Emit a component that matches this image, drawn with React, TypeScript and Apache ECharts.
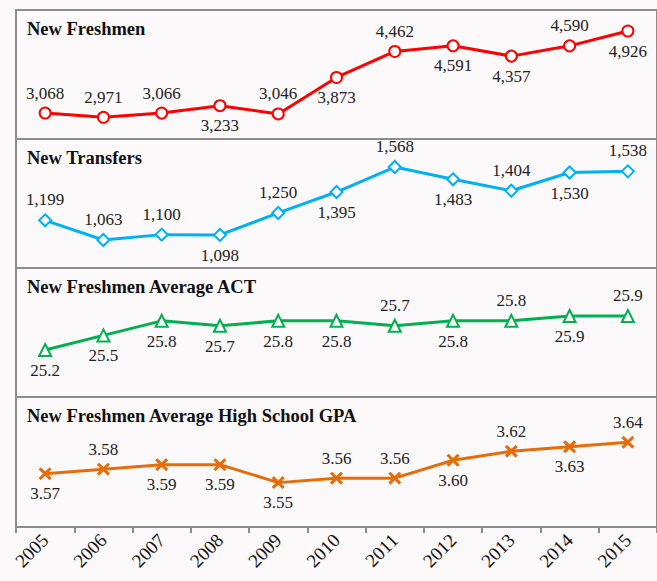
import React, { useEffect, useRef } from "react";
import * as echarts from "echarts";

const years = ["2005", "2006", "2007", "2008", "2009", "2010", "2011", "2012", "2013", "2014", "2015"];

const freshmen = [3068, 2971, 3066, 3233, 3046, 3873, 4462, 4591, 4357, 4590, 4926];
const freshmenPos = ["top", "top", "top", "bottom", "top", "bottom", "top", "bottom", "bottom", "top", "bottom"];

const transfers = [1199, 1063, 1100, 1098, 1250, 1395, 1568, 1483, 1404, 1530, 1538];
const transfersPos = ["top", "top", "top", "bottom", "top", "bottom", "top", "bottom", "top", "bottom", "top"];

const act = [25.2, 25.5, 25.8, 25.7, 25.8, 25.8, 25.7, 25.8, 25.8, 25.9, 25.9];
const actPos = ["bottom", "bottom", "bottom", "bottom", "bottom", "bottom", "top", "bottom", "top", "bottom", "top"];

const gpa = [3.57, 3.58, 3.59, 3.59, 3.55, 3.56, 3.56, 3.6, 3.62, 3.63, 3.64];
const gpaPos = ["bottom", "top", "bottom", "bottom", "bottom", "top", "top", "bottom", "top", "bottom", "top"];

const titles = ["New Freshmen", "New Transfers", "New Freshmen Average ACT", "New Freshmen Average High School GPA"];

const FONT = "Liberation Serif";

export default function App() {
  const ref = useRef<HTMLDivElement>(null);
  useEffect(() => {
    if (!ref.current) return;
    const chart = echarts.init(ref.current, null, { renderer: "svg" });
    const tops = [10, 139, 268, 397];
    const heights = [129, 129, 129, 130];
    const ranges = [
      [2479, 5402],
      [869, 1762],
      [24.23, 26.89],
      [3.451, 3.741],
    ];
    const colors = ["#ff0000", "#00b0f0", "#00b050", "#e46c0a"];
    const datas = [freshmen, transfers, act, gpa];
    const poses = [freshmenPos, transfersPos, actPos, gpaPos];
    const fmts = [
      (v: number) => v.toLocaleString("en-US"),
      (v: number) => v.toLocaleString("en-US"),
      (v: number) => v.toFixed(1),
      (v: number) => v.toFixed(2),
    ];
    const xSym = "path://M2,0 L6,4 L10,0 L12,2 L8,6 L12,10 L10,12 L6,8 L2,12 L0,10 L4,6 L0,2 Z";
    const symbols = ["emptyCircle", "emptyDiamond", "emptyTriangle", xSym];
    const symSizes = [11, 12, 12, 13];

    const option: any = {
      animation: false,
      backgroundColor: "#fcf9fa",
      textStyle: { fontFamily: FONT },
      title: titles.map((t, i) => ({
        text: t,
        left: 27,
        top: tops[i] + 9,
        padding: 0,
        textStyle: { fontFamily: FONT, fontSize: 18.5, fontWeight: "bold", color: "#111" },
      })),
      grid: tops.map((t, i) => ({
        left: 16,
        width: 645,
        top: t,
        height: heights[i],
        show: true,
        borderColor: "#8c8c8c",
        borderWidth: 2,
        backgroundColor: "transparent",
      })),
      xAxis: tops.map((_, i) => ({
        type: "category",
        gridIndex: i,
        data: years,
        boundaryGap: true,
        show: i === 3,
        axisLine: { show: true, lineStyle: { color: "#8c8c8c", width: 2 } },
        axisTick: { show: true, length: 6, lineStyle: { color: "#8c8c8c", width: 2 } },
        axisLabel: {
          rotate: 45,
          fontFamily: FONT,
          fontSize: 19,
          color: "#111",
          margin: 10,
          interval: 0,
        },
        splitLine: { show: false },
      })),
      yAxis: tops.map((_, i) => ({
        type: "value",
        gridIndex: i,
        min: ranges[i][0],
        max: ranges[i][1],
        show: false,
        splitLine: { show: false },
      })),
      series: datas.map((d, i) => ({
        type: "line",
        xAxisIndex: i,
        yAxisIndex: i,
        data: d.map((v, j) => ({
          value: v,
          label: { position: poses[i][j] },
        })),
        symbol: symbols[i],
        symbolSize: symSizes[i],
        showAllSymbol: true,
        lineStyle: { color: colors[i], width: 3 },
        itemStyle: {
          color: colors[i],
          borderColor: colors[i],
          borderWidth: i === 3 ? 0 : 2.5,
        },
        label: {
          show: true,
          distance: 5,
          fontFamily: FONT,
          fontSize: 17,
          color: "#222",
          formatter: (p: any) => fmts[i](p.value),
        },
        emphasis: { disabled: true },
        z: 3,
      })),
    };
    chart.setOption(option);
    return () => chart.dispose();
  }, []);
  return (
    <div
      ref={ref}
      style={{ position: "fixed", left: 0, top: 0, width: 657, height: 581 }}
    />
  );
}
